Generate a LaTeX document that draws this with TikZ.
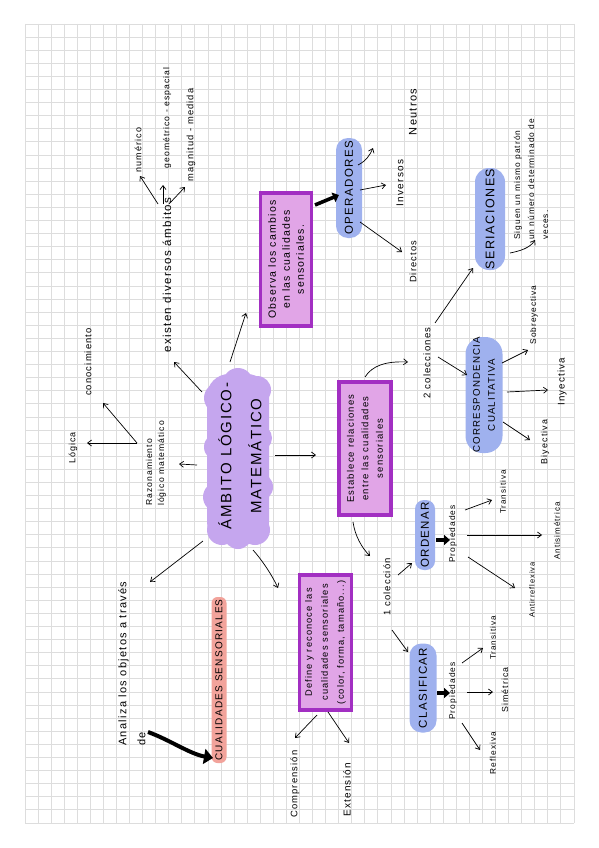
\documentclass[tikz,border=0pt]{standalone}
\usepackage{fontspec}
\setmainfont{Liberation Sans}[LetterSpace=12]
\usetikzlibrary{arrows.meta}
\definecolor{gridc}{HTML}{DDDDDD}
\definecolor{lav}{HTML}{C5A6EE}
\definecolor{boxf}{HTML}{E1A5E7}
\definecolor{boxd}{HTML}{A22FC2}
\definecolor{blu}{HTML}{9FB1EE}
\definecolor{sal}{HTML}{F2A39B}
\newcommand\fz[2]{\fontsize{#1}{#2}\selectfont}
\begin{document}
\begin{tikzpicture}[x=1pt,y=1pt,
  txt/.style={rotate=90, inner sep=1pt, text=black},
  arr/.style={-{Straight Barb[length=4pt,width=6pt]}, line width=0.7pt},
  fat/.style={line width=3.6pt, -{Triangle[length=6pt,width=10pt]}},
  pill/.style={rotate=90, fill=blu, inner sep=0pt},
  box/.style={rotate=90, draw=boxd, fill=boxf, line width=3.5pt, align=center, inner sep=0pt}]
\useasboundingbox (0,0) rectangle (599,-848);
\fill[white] (0,0) rectangle (599,-848);
% grid
\foreach \i in {0,...,42} \draw[gridc, line width=0.9pt] ({25+\i*13.0714},-24) -- ({25+\i*13.0714},-823);
\foreach \j in {0,...,61} \draw[gridc, line width=0.9pt] (25,{-24-\j*13.0984}) -- (574,{-24-\j*13.0984});
% central cloud
\fill[lav, rounded corners=22pt] (207,-374) rectangle (269,-544);
\foreach \cx/\cy/\r in {219/398/15, 218/447/14, 218/497/15, 222/530/15, 257/390/14, 259/438/13, 259/487/14, 255/530/15, 238/383/15, 238/535/14}
  \fill[lav] (\cx,-\cy) circle (\r);
\node[rotate=90, font=\fz{15}{30}, align=center, inner sep=0pt] (cen) at (240,-456) {ÁMBITO LÓGICO-\\MATEMÁTICO};
% nodes
\node[txt, font=\fz{11.5}{14}] (exi) at (167,-275) {existen diversos ámbitos};
\node[txt, font=\fz{9}{11}] (num) at (138,-150) {numérico};
\node[txt, font=\fz{8.6}{11}] (geo) at (167,-118) {geométrico - espacial};
\node[txt, font=\fz{9.3}{11}] (mag) at (191,-135) {magnitud - medida};
\node[txt, font=\fz{8.6}{12}, align=left, anchor=west] (raz) at (156,-507) {Razonamiento\\lógico matemático};
\node[txt, font=\fz{9}{11}] (log) at (73,-448) {Lógica};
\node[txt, font=\fz{9.4}{11}] (con) at (88,-362) {conocimiento};
\node[box, minimum width=133pt, minimum height=51pt, font=\fz{10.5}{14}] (obs) at (286,-259.5) {Observa los cambios\\en las cualidades\\sensoriales.};
\node[pill, minimum width=100pt, minimum height=26pt, rounded corners=12pt, font=\fz{11.5}{13}] (ope) at (349,-188) {OPERADORES};
\node[txt, font=\fz{11}{13}] (neu) at (413,-112) {Neutros};
\node[txt, font=\fz{10}{12}] (inv) at (400,-183) {Inversos};
\node[txt, font=\fz{9.3}{11}] (dir) at (413,-262) {Directos};
\node[pill, minimum width=102pt, minimum height=30pt, rounded corners=14pt, font=\fz{12.5}{14}] (ser) at (490,-219) {SERIACIONES};
\node[txt, font=\fz{8.4}{14}, align=left, anchor=west] (sig) at (531,-241) {Siguen un mismo patrón\\un número determinado de\\veces.};
\node[box, minimum width=133pt, minimum height=52pt, font=\fz{9.5}{14.5}] (est) at (365,-448.5) {Establece relaciones\\entre las cualidades\\sensoriales};
\node[txt, font=\fz{9.6}{11}] (dos) at (427,-363) {2 colecciones};
\node[pill, minimum width=116pt, minimum height=37pt, rounded corners=17pt, font=\fz{9.7}{15}, align=center] (cor) at (484,-395) {CORRESPONDENCIA\\CUALITATIVA};
\node[txt, font=\fz{8.3}{10}] (sob) at (534,-315) {Sobreyectiva};
\node[txt, font=\fz{9.7}{11}] (iny) at (562,-382) {Inyectiva};
\node[txt, font=\fz{8.9}{11}] (biy) at (545,-442) {Biyectiva};
\node[txt, font=\fz{9.5}{11}] (uno) at (387,-587) {1 colección};
\node[pill, minimum width=70pt, minimum height=20pt, rounded corners=9pt, font=\fz{11.5}{13}] (ord) at (425,-535) {ORDENAR};
\node[txt, font=\fz{8.4}{10}] (pro1) at (453,-534) {Propiedades};
\node[txt, font=\fz{8.1}{10}] (tra1) at (503,-492) {Transitiva};
\node[txt, font=\fz{8}{10}] (ant) at (557,-531) {Antisimétrica};
\node[txt, font=\fz{7.5}{10}] (arf) at (532,-590) {Antirreflexiva};
\node[pill, minimum width=89pt, minimum height=27pt, rounded corners=12pt, font=\fz{11.5}{13}] (cla) at (423,-688) {CLASIFICAR};
\node[txt, font=\fz{8.4}{10}] (pro2) at (453,-691) {Propiedades};
\node[txt, font=\fz{8.1}{10}] (tra2) at (493,-638) {Transitiva};
\node[txt, font=\fz{8.8}{10}] (sim) at (505,-690) {Simétrica};
\node[txt, font=\fz{8.3}{10}] (ref) at (493,-753) {Reflexiva};
\node[box, minimum width=135pt, minimum height=52pt, font=\fz{9.3}{16}] (def) at (325.5,-642.5) {Define y reconoce las\\cualidades sensoriales\\(color, forma, tamaño...)};
\node[txt, font=\fz{9.4}{11}] (com) at (295,-784) {Comprensión};
\node[txt, font=\fz{10}{11}] (ext) at (347,-790) {Extensión};
\node[txt, font=\fz{11}{19}, align=left, anchor=west] (ana) at (132,-747) {Analiza los objetos a través\\de};
\node[pill, fill=sal, minimum width=166pt, minimum height=15pt, rounded corners=6pt, font=\fz{10}{12}] (cua) at (219,-680) {CUALIDADES SENSORIALES};
% connector end points
\coordinate (a1s) at (202,-392); \coordinate (a1e) at (174,-362);
\coordinate (a2s) at (230,-362); \coordinate (a2e) at (246,-313);
\coordinate (a3s) at (197,-465); \coordinate (a3e) at (179,-464);
\coordinate (a4s) at (203,-541); \coordinate (a4e) at (150,-582);
\coordinate (a5s) at (253,-550); \coordinate (a5e) at (278,-588);
\coordinate (a6s) at (275,-455); \coordinate (a6e) at (316,-455);
\coordinate (b1s) at (158,-204); \coordinate (b1e) at (140,-176);
\coordinate (b2s) at (163,-204); \coordinate (b2e) at (163,-185);
\coordinate (b3s) at (169,-204); \coordinate (b3e) at (185,-187);
\coordinate (c0) at (137,-443); \coordinate (c1e) at (87,-443); \coordinate (c2e) at (103,-403);
\coordinate (d0s) at (315,-205); \coordinate (d0e) at (339,-195);
\coordinate (d1s) at (358,-165); \coordinate (d1e) at (373,-148);
\coordinate (d2s) at (360,-190); \coordinate (d2e) at (386,-185);
\coordinate (d3s) at (360,-222); \coordinate (d3e) at (402,-252);
\coordinate (s1s) at (510,-253); \coordinate (s1e) at (535,-240);
\coordinate (e1s) at (365,-377); \coordinate (e1e) at (408,-362);
\coordinate (e2s) at (435,-323); \coordinate (e2e) at (473,-268);
\coordinate (e3s) at (438,-357); \coordinate (e3e) at (467,-375);
\coordinate (f1s) at (502,-363); \coordinate (f1e) at (528,-350);
\coordinate (f2s) at (507,-392); \coordinate (f2e) at (548,-390);
\coordinate (f3s) at (503,-422); \coordinate (f3e) at (530,-440);
\coordinate (g1s) at (353,-522); \coordinate (g1e) at (370,-556);
\coordinate (g2s) at (398,-575); \coordinate (g2e) at (412,-563);
\coordinate (g3s) at (392,-630); \coordinate (g3e) at (408,-652);
\coordinate (h0s) at (436,-540); \coordinate (h0e) at (450,-540);
\coordinate (h1s) at (465,-510); \coordinate (h1e) at (492,-500);
\coordinate (h2s) at (467,-535); \coordinate (h2e) at (542,-535);
\coordinate (h3s) at (468,-557); \coordinate (h3e) at (515,-588);
\coordinate (i0s) at (437,-693); \coordinate (i0e) at (450,-693);
\coordinate (i1s) at (462,-663); \coordinate (i1e) at (483,-648);
\coordinate (i2s) at (467,-692); \coordinate (i2e) at (493,-692);
\coordinate (i3s) at (462,-723); \coordinate (i3e) at (480,-750);
\coordinate (j1s) at (317,-715); \coordinate (j1e) at (295,-738);
\coordinate (j2s) at (328,-712); \coordinate (j2e) at (349,-743);
\coordinate (ks) at (148,-732); \coordinate (ke) at (213,-758);
% connectors
\draw[arr] (a1s) -- (a1e);
\draw[arr] (a2s) -- (a2e);
\draw[arr] (a3s) -- (a3e);
\draw[arr] (a4s) -- (a4e);
\draw[arr] (a5s) .. controls (262,-560) and (272,-575) .. (a5e);
\draw[arr] (a6s) -- (a6e);
\draw[arr] (b1s) -- (b1e);
\draw[arr] (b2s) -- (b2e);
\draw[arr] (b3s) -- (b3e);
\draw[arr] (c0) -- (c1e);
\draw[arr] (c0) -- (c2e);
\draw[fat] (d0s) -- (d0e);
\draw[arr] (d1s) .. controls (366,-161) and (370,-155) .. (d1e);
\draw[arr] (d2s) -- (d2e);
\draw[arr] (d3s) -- (d3e);
\draw[arr] (s1s) .. controls (520,-251) and (530,-248) .. (s1e);
\draw[arr] (e1s) .. controls (372,-366) and (385,-361) .. (e1e);
\draw[arr] (e2s) -- (e2e);
\draw[arr] (e3s) -- (e3e);
\draw[arr] (f1s) -- (f1e);
\draw[arr] (f2s) -- (f2e);
\draw[arr] (f3s) -- (f3e);
\draw[arr] (g1s) .. controls (355,-536) and (362,-548) .. (g1e);
\draw[arr] (g2s) -- (g2e);
\draw[arr] (g3s) -- (g3e);
\draw[fat] (h0s) -- (h0e);
\draw[arr] (h1s) -- (h1e);
\draw[arr] (h2s) -- (h2e);
\draw[arr] (h3s) -- (h3e);
\draw[fat] (i0s) -- (i0e);
\draw[arr] (i1s) -- (i1e);
\draw[arr] (i2s) -- (i2e);
\draw[arr] (i3s) -- (i3e);
\draw[arr] (j1s) -- (j1e);
\draw[arr] (j2s) -- (j2e);
\draw[line width=4pt, -{Triangle[length=9pt,width=15pt]}] (ks) .. controls (170,-740) and (190,-754) .. (ke);
\end{tikzpicture}
\end{document}
